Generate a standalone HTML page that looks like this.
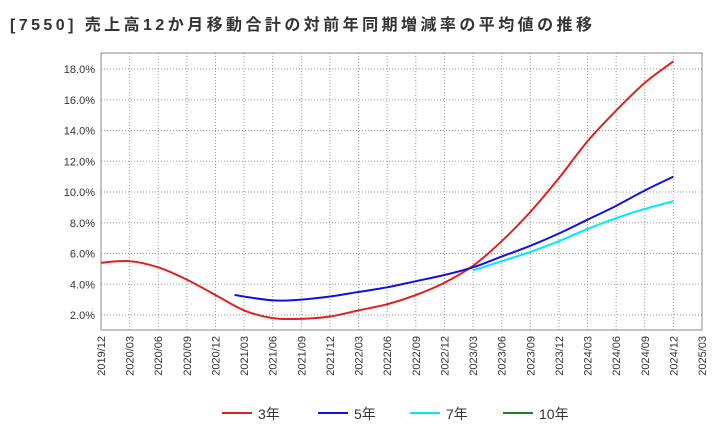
<!DOCTYPE html>
<html><head><meta charset="utf-8"><style>
body{margin:0;background:#fff;}
svg text{font-family:"Liberation Sans","Noto Sans CJK JP",sans-serif;}
</style></head><body>
<svg width="720" height="440" id="c">
<text x="10" y="30" font-size="16" font-weight="bold" fill="#333" textLength="582" lengthAdjust="spacing">[7550]  売上高12か月移動合計の対前年同期増減率の平均値の推移</text>
<g id="plot"></g>
</svg>
<script>
const xLabels=["2019/12","2020/03","2020/06","2020/09","2020/12","2021/03","2021/06","2021/09","2021/12","2022/03","2022/06","2022/09","2022/12","2023/03","2023/06","2023/09","2023/12","2024/03","2024/06","2024/09","2024/12","2025/03"];
const yTicks=[2,4,6,8,10,12,14,16,18];
// months since 2019/12
const m3=[0,3,6,9,12,15,18,21,24,27,30,33,36,39,42,45,48,51,54,57,60];
const v3=[5.4,5.5,5.1,4.3,3.3,2.3,1.8,1.75,1.9,2.3,2.7,3.3,4.1,5.2,6.8,8.7,10.9,13.3,15.3,17.1,18.5];
const m5=[14,18,21,24,27,30,33,36,39,42,45,48,51,54,57,60];
const v5=[3.3,2.95,3.0,3.2,3.5,3.8,4.2,4.6,5.1,5.8,6.5,7.3,8.2,9.1,10.1,11.0];
const m7=[39,42,45,48,51,54,57,60];
const v7=[4.9,5.5,6.1,6.8,7.6,8.3,8.9,9.4];
const NS="http://www.w3.org/2000/svg";
const L=101,R=702,T=53,B=330;
const X=m=>L+(R-L)*m/63;
const Y=v=>345.75-v*15.375;
const g=document.getElementById('plot');
function el(t,a){const e=document.createElementNS(NS,t);for(const k in a)e.setAttribute(k,a[k]);g.appendChild(e);return e;}
for(let i=0;i<xLabels.length;i++){
 const x=X(i*3);
 const ln=el('line',{x1:x,x2:x,y1:T,y2:B,stroke:'#999','stroke-dasharray':'1,2','stroke-width':1});
 
 
 const t=el('text',{x:x+4,y:B+6,'font-size':11,fill:'#333','text-anchor':'end',transform:`rotate(-90 ${x+4} ${B+6})`});
 t.textContent=xLabels[i];
 
 
}
for(const v of yTicks){
 const y=Y(v);
 const ln=el('line',{x1:L,x2:R,y1:y,y2:y,stroke:'#999','stroke-dasharray':'1,2','stroke-width':1});
 
 
 const t=el('text',{x:L-6,y:y+4,'font-size':11,fill:'#333','text-anchor':'end'});
 t.textContent=v.toFixed(1)+'%';
 
 
}
const fr=el('rect',{x:L,y:T,width:R-L,height:B-T,fill:'none',stroke:'#888'});


function path(ms,vs,col,name){
 const p=ms.map((m,i)=>[X(m),Y(vs[i])]);
 let d=`M${p[0][0]},${p[0][1]}`;
 for(let i=0;i<p.length-1;i++){
  const p0=p[Math.max(0,i-1)],p1=p[i],p2=p[i+1],p3=p[Math.min(p.length-1,i+2)];
  const c1=[p1[0]+(p2[0]-p0[0])/6,p1[1]+(p2[1]-p0[1])/6];
  const c2=[p2[0]-(p3[0]-p1[0])/6,p2[1]-(p3[1]-p1[1])/6];
  d+=`C${c1[0]},${c1[1]} ${c2[0]},${c2[1]} ${p2[0]},${p2[1]}`;
 }
 const e=el('path',{d:d,fill:'none',stroke:col,'stroke-width':2});
 
 
}
path(m3,v3,'#e02020','series-3yr');
path(m5,v5,'#1010e0','series-5yr');
path(m7,v7,'#00e8f8','series-7yr');
const leg=[['3年','#e02020',222],['5年','#1010e0',318],['7年','#00e8f8',410],['10年','#208020',503]];
for(const [lab,col,x] of leg){
 const ln=el('line',{x1:x,x2:x+30,y1:413,y2:413,stroke:col,'stroke-width':2});
 
 
 const t=el('text',{x:x+36,y:419,'font-size':14,fill:'#333'});
 t.textContent=lab;
 
 
}
</script>
</body></html>
